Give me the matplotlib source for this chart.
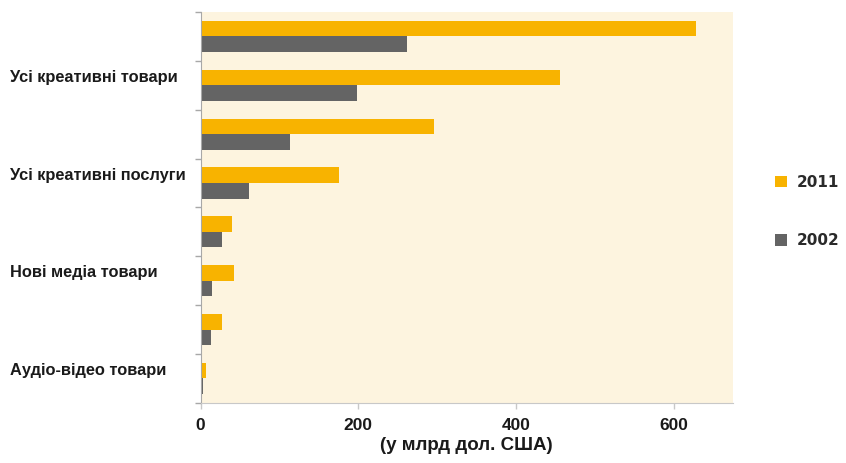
import matplotlib
matplotlib.use("Agg")
import matplotlib.pyplot as plt
import matplotlib.transforms as mtransforms
import numpy as np

# Creative economy trade, billions of USD
labels = ["", "Усі креативні товари", "", "Усі креативні послуги",
          "", "Нові медіа товари", "", "Аудіо-відео товари"]
vals_2011 = [628, 456, 296, 176, 40, 43, 27, 7]
vals_2002 = [262, 199, 113, 62, 27, 15, 13, 3]
x_ticks = [0, 200, 400, 600]

ORANGE = "#F8B300"
GRAY = "#646464"
CREAM = "#FDF4DF"
AXIS = "#A8A8A8"
TEXT = "#1A1A1A"

NARROW = ["Liberation Sans Narrow", "Liberation Sans", "DejaVu Sans"]

fig = plt.figure(figsize=(8.46, 4.63), dpi=100)
ax = fig.add_axes([0.237, 0.130, 0.629, 0.844])
ax.set_facecolor(CREAM)

n = len(labels)
y = np.arange(n)
bh = 0.32
ax.barh(y - bh / 2, vals_2011, height=bh, color=ORANGE, label="2011", zorder=2)
ax.barh(y + bh / 2, vals_2002, height=bh, color=GRAY, label="2002", zorder=2)

ax.set_ylim(n - 0.5, -0.5)
ax.set_xlim(0, 675)

# group separators on the y axis, no labels there
ax.set_yticks(np.arange(n + 1) - 0.5)
ax.set_yticklabels([])
ax.tick_params(axis="y", length=4, color=AXIS, width=1)

ax.set_xticks(x_ticks)
ax.set_xticklabels([str(t) for t in x_ticks], fontsize=12.5, fontweight="bold",
                   color=TEXT, family=["Liberation Sans", "DejaVu Sans"])
ax.tick_params(axis="x", length=4, color="#C8C8C8", width=1, pad=7)

for s in ["top", "right"]:
    ax.spines[s].set_visible(False)
ax.spines["left"].set_color(AXIS)
ax.spines["bottom"].set_color("#C8C8C8")

# category names sit level with the 2011 bar, flush left in the figure
trans = mtransforms.blended_transform_factory(fig.transFigure, ax.transData)
for i, lab in enumerate(labels):
    if lab:
        fig.text(0.012, i - bh / 2, lab, transform=trans, ha="left", va="center",
                 fontsize=11.8, fontweight="bold", color=TEXT, family=NARROW)

ax.set_xlabel("(у млрд дол. США)", fontsize=13.5, fontweight="bold", color=TEXT,
              family=NARROW, labelpad=3)

leg = fig.legend(loc="center left", bbox_to_anchor=(0.916, 0.543),
                 frameon=False, fontsize=11, handlelength=0.8, handleheight=0.8,
                 labelspacing=2.85, handletextpad=0.65, borderpad=0,
                 borderaxespad=0)
for t in leg.get_texts():
    t.set_fontweight("bold")
    t.set_color("#2A2A2A")

fig.savefig("out.png", dpi=100, facecolor="white")
